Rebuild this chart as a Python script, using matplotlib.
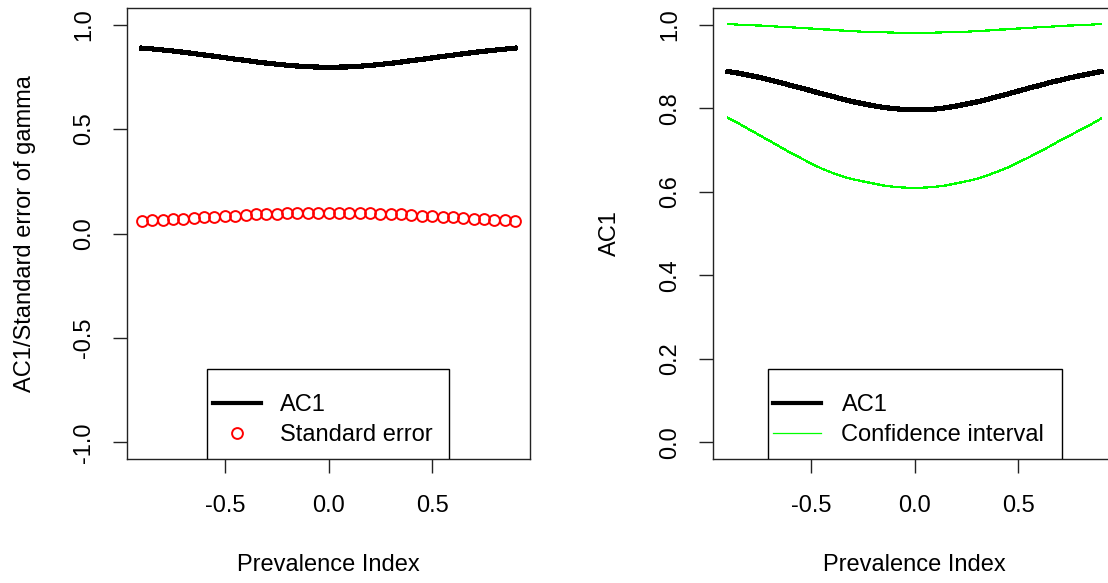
"""
AC1 vs prevalence index: two side-by-side panels in R base-graphics style.

Output:
    - out.png
"""
import matplotlib
matplotlib.use("Agg")
import matplotlib.pyplot as plt
from matplotlib.patches import Rectangle

plt.rcParams['font.family'] = ['Liberation Sans', 'DejaVu Sans']
plt.rcParams['font.size'] = 17
plt.rcParams['axes.unicode_minus'] = False

# Prevalence index grid
prev_index = [-0.90, -0.85, -0.80, -0.75, -0.70, -0.65, -0.60, -0.55, -0.50, -0.45,
              -0.40, -0.35, -0.30, -0.25, -0.20, -0.15, -0.10, -0.05, 0.00,
              0.05, 0.10, 0.15, 0.20, 0.25, 0.30, 0.35, 0.40, 0.45,
              0.50, 0.55, 0.60, 0.65, 0.70, 0.75, 0.80, 0.85, 0.90]

ac1 = [0.888, 0.884, 0.879, 0.874, 0.868, 0.862, 0.855, 0.849, 0.842, 0.835,
       0.829, 0.822, 0.816, 0.811, 0.806, 0.802, 0.799, 0.797, 0.796,
       0.797, 0.798, 0.801, 0.805, 0.810, 0.815, 0.821, 0.828, 0.834,
       0.841, 0.848, 0.854, 0.861, 0.867, 0.873, 0.878, 0.883, 0.888]

std_error = [0.062, 0.064, 0.066, 0.068, 0.071, 0.074, 0.077, 0.080, 0.083, 0.085,
             0.088, 0.091, 0.093, 0.095, 0.097, 0.098, 0.099, 0.100, 0.100,
             0.100, 0.099, 0.098, 0.097, 0.095, 0.093, 0.091, 0.088, 0.085,
             0.083, 0.080, 0.077, 0.074, 0.071, 0.068, 0.066, 0.064, 0.062]

ci_lower = [0.777, 0.764, 0.750, 0.736, 0.722, 0.708, 0.694, 0.681, 0.668, 0.656,
            0.646, 0.637, 0.630, 0.625, 0.620, 0.615, 0.612, 0.610, 0.609,
            0.610, 0.612, 0.615, 0.620, 0.625, 0.631, 0.639, 0.648, 0.658,
            0.670, 0.682, 0.695, 0.708, 0.722, 0.735, 0.748, 0.761, 0.775]

ci_upper = [1.002, 1.000, 0.999, 0.998, 0.997, 0.995, 0.994, 0.992, 0.991, 0.989,
            0.988, 0.986, 0.985, 0.983, 0.982, 0.982, 0.981, 0.980, 0.980,
            0.980, 0.981, 0.982, 0.982, 0.983, 0.985, 0.986, 0.988, 0.989,
            0.991, 0.992, 0.994, 0.995, 0.997, 0.998, 0.999, 1.000, 1.002]

x_ticks = [-0.5, 0.0, 0.5]
x_tick_labels = ["-0.5", "0.0", "0.5"]
left_y_ticks = [-1.0, -0.5, 0.0, 0.5, 1.0]
left_y_labels = ["-1.0", "-0.5", "0.0", "0.5", "1.0"]
right_y_ticks = [0.0, 0.2, 0.4, 0.6, 0.8, 1.0]
right_y_labels = ["0.0", "0.2", "0.4", "0.6", "0.8", "1.0"]

W, H = 1108, 583
fig = plt.figure(figsize=(W / 100, H / 100), dpi=100)

ax_w, ax_h = 403 / W, 451 / H
ax_b = 1 - 459 / H
ax1 = fig.add_axes([127 / W, ax_b, ax_w, ax_h])
ax2 = fig.add_axes([713 / W, ax_b, ax_w, ax_h])


def style_axes(ax, yticks, ylabels, ylim, ylabel):
    # R-like box, outward ticks, rotated y tick labels
    ax.set_xlim(-0.972, 0.972)
    ax.set_ylim(*ylim)
    ax.set_xticks(x_ticks)
    ax.set_xticklabels(x_tick_labels)
    ax.set_yticks(yticks)
    ax.set_yticklabels(ylabels, rotation=90, va='center')
    ax.tick_params(direction='out', length=10, width=1.0, color='#222222')
    ax.tick_params(axis='x', pad=16)
    ax.tick_params(axis='y', pad=13)
    for sp in ax.spines.values():
        sp.set_linewidth(1.0)
        sp.set_color('#222222')
    ax.set_xlabel("Prevalence Index")
    ax.xaxis.set_label_coords(0.5, -(565 - 459) / 451)
    ax.xaxis.label.set_va('center')
    ax.set_ylabel(ylabel)
    ax.yaxis.label.set_va('center')


def r_legend(ax, box_left, box_right, handle_x, text_pad):
    # R-style legend: square frame drawn by hand, entries placed inside it
    frame = Rectangle((box_left, 0), box_right - box_left, (459 - 369) / 451,
                      transform=ax.transAxes, facecolor='white',
                      edgecolor='black', linewidth=1.0, zorder=5)
    ax.add_patch(frame)
    leg = ax.legend(loc='lower left', bbox_to_anchor=(handle_x, 0.028),
                    frameon=False, borderaxespad=0, borderpad=0,
                    handlelength=2.05, handletextpad=text_pad,
                    labelspacing=0.36, fontsize=17)
    leg.set_zorder(6)


# Left panel: AC1 and its standard error
ax1.plot(prev_index, ac1, color='black', lw=3.0, antialiased=False, label='AC1')
ax1.plot(prev_index, std_error, linestyle='none', marker='o', markersize=7.8,
         markerfacecolor='none', markeredgecolor='red', markeredgewidth=1.4,
         label='Standard error')
style_axes(ax1, left_y_ticks, left_y_labels, (-1.08, 1.08),
           "AC1/Standard error of gamma")
ax1.yaxis.set_label_coords((25 - 127) / 403, 0.5)
r_legend(ax1, (207 - 127) / 403, (449 - 127) / 403, (213 - 127) / 403, 0.8)

# Right panel: AC1 with confidence interval
ax2.plot(prev_index, ac1, color='black', lw=3.0, antialiased=False, label='AC1')
ax2.plot(prev_index, ci_upper, color='#00ff00', lw=0.9, antialiased=False,
         label='Confidence interval')
ax2.plot(prev_index, ci_lower, color='#00ff00', lw=0.9, antialiased=False)
style_axes(ax2, right_y_ticks, right_y_labels, (-0.04, 1.04), "AC1")
ax2.yaxis.set_label_coords((610 - 713) / 403, 0.5)
r_legend(ax2, (768 - 713) / 403, (1062 - 713) / 403, (773 - 713) / 403, 0.85)

fig.savefig("out.png", dpi=100)
print("Saved 'out.png'")
